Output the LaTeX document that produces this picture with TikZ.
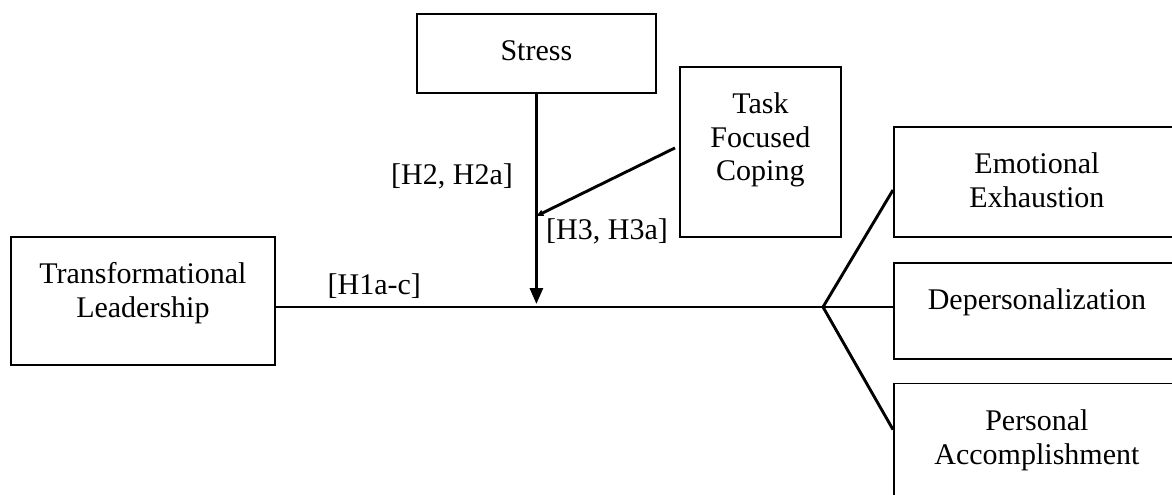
\documentclass[tikz,border=0pt]{standalone}
\usepackage{fontspec}
\setmainfont{Liberation Serif}
\usetikzlibrary{arrows.meta,positioning}

\begin{document}
\begin{tikzpicture}[x=1pt,y=-1pt,>={Triangle[length=16pt,width=13pt]},
  every node/.style={font=\fontsize{30}{33.5}\selectfont},
  box/.style={draw,line width=1.8pt,align=center,inner xsep=0pt,inner ysep=0pt,anchor=north west},
  link/.style={line width=2.9pt}]
\useasboundingbox (0,0) rectangle (1172,495);
\node[box,minimum width=264pt,text height=80.5pt,text depth=47.5pt] (tl) at (10,236) {Transformational\\Leadership};
\node[box,minimum width=239pt,text height=47pt,text depth=32pt] (stress) at (416,13) {Stress};
\node[box,minimum width=161pt,text height=114pt,text depth=56pt] (tfc) at (679,66) {Task\\Focused\\Coping};
\node[box,minimum width=286pt,text height=80.5pt,text depth=29.5pt] (ee) at (893,126) {Emotional\\Exhaustion};
\node[box,minimum width=286pt,text height=47pt,text depth=49pt,anchor=north,below=24pt of ee] (dep) {Depersonalization};
\node[box,minimum width=286pt,text height=80.5pt,text depth=44.5pt,anchor=north,below=23pt of dep] (pa) {Personal\\Accomplishment};
\coordinate (hub) at (823,307);
\coordinate (mod) at (stress.south |- 0,216);
% paths
\draw[link] (tl.east |- hub) -- node[above=4pt,pos=0.18] (h1) {[H1a-c]} (hub);
\draw[link] (hub) -- ([yshift=-64pt]ee.north west);
\draw[link] (hub) -- (dep.west |- hub);
\draw[link] (hub) -- ([yshift=-47pt]pa.north west);
\draw[link,->,shorten >=3pt] (stress.south) -- (stress.south |- hub);
\draw[link,-{Triangle[length=7pt,width=6pt]}] ([xshift=-4pt,yshift=4pt]tfc.west) -- (mod);
\node (h2) at (452,176) {[H2, H2a]};
\node (h3) at (607,231) {[H3, H3a]};
\end{tikzpicture}
\end{document}
